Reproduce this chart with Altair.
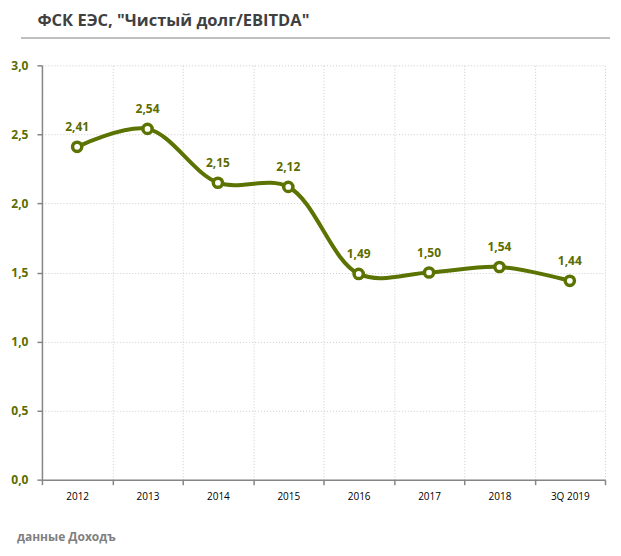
import altair as alt
import pandas as pd

years = ["2012", "2013", "2014", "2015", "2016", "2017", "2018", "3Q 2019"]
values = [2.41, 2.54, 2.15, 2.12, 1.49, 1.50, 1.54, 1.44]
labels = [f"{v:.2f}".replace(".", ",") for v in values]
y_ticks = [0.0, 0.5, 1.0, 1.5, 2.0, 2.5, 3.0]

df = pd.DataFrame({"year": years, "value": values, "label": labels})

GREEN = "#5b7300"
LABEL = "#5c6c00"
FONT = "Open Sans"

x = alt.X("year:N", sort=years, title=None,
          scale=alt.Scale(paddingInner=0, paddingOuter=0),
          axis=alt.Axis(labelAngle=0, labelFontSize=10, labelColor="#000000",
                        labelFont=FONT, tickBand="extent", grid=True,
                        gridColor="#cccccc", gridDash=[1, 2], gridWidth=1,
                        domainColor="#868686", domainWidth=1.5,
                        tickColor="#868686", tickSize=5, tickWidth=1.5,
                        labelPadding=7))
y = alt.Y("value:Q", title=None,
          scale=alt.Scale(domain=[0, 3], nice=False),
          axis=alt.Axis(values=y_ticks,
                        labelExpr="replace(format(datum.value, '.1f'), '.', ',')",
                        labelFontSize=12, labelFontWeight="bold", labelColor=LABEL,
                        labelFont=FONT, grid=True, gridColor="#cccccc",
                        gridDash=[1, 2], gridWidth=1, domainColor="#868686",
                        domainWidth=1.5, tickColor="#868686", tickSize=5,
                        tickWidth=1.5, labelPadding=9))

base = alt.Chart(df).encode(x=x, y=y)

line = base.mark_line(interpolate="catmull-rom", color=GREEN, strokeWidth=4)
points = base.mark_point(shape="circle", filled=True, fill="white", stroke=GREEN,
                         strokeWidth=3.5, size=85, opacity=1)
text = base.mark_text(dy=-20, fontSize=12, fontWeight="bold", color=LABEL,
                      font=FONT).encode(text="label:N")

one = df.head(1)
sep = alt.Chart(one).mark_rule(color="#bfbfbf", strokeWidth=2).encode(
    x=alt.value(-21), x2=alt.value(569), y=alt.value(-27.5))
title = alt.Chart(one).mark_text(
    text='ФСК ЕЭС, "Чистый долг/EBITDA"', align="left", baseline="alphabetic",
    fontSize=16.5, fontWeight="bold", color="#404040", font=FONT).encode(
    x=alt.value(-4.5), y=alt.value(-39))
footer = alt.Chart(one).mark_text(
    text="данные Доходъ", align="left", baseline="alphabetic", fontSize=12,
    fontWeight="bold", color="#7f7f7f", font=FONT).encode(
    x=alt.value(-25), y=alt.value(476.5))

chart = alt.layer(line, points, text, sep, title, footer).properties(
    width=564, height=415,
    padding={"left": 34, "top": 57, "right": 8, "bottom": 68},
    autosize=alt.AutoSizeParams(type="none"),
).configure_view(stroke=None)

chart.save("out.html", embed_options={"renderer": "svg", "actions": False})
